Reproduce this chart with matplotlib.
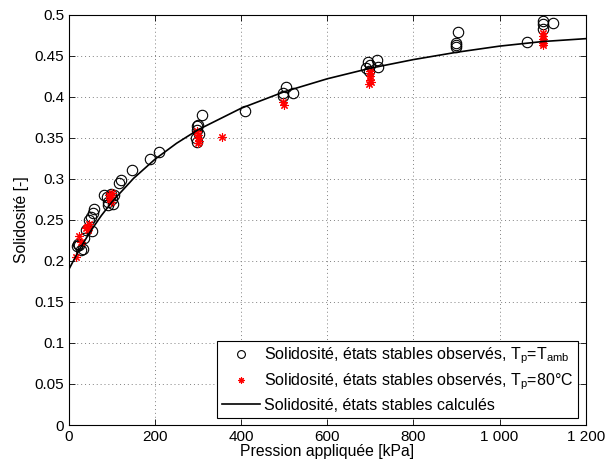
import numpy as np
import matplotlib
matplotlib.use("Agg")
from matplotlib import pyplot as plt

plt.rcParams['font.family'] = ['Liberation Sans', 'DejaVu Sans']
plt.rcParams['mathtext.fontset'] = 'custom'
plt.rcParams['mathtext.rm'] = 'Liberation Sans'
plt.rcParams['mathtext.it'] = 'Liberation Sans:italic'

# Observed stable states, T_p = T_amb (pressure kPa, solidity)
amb_pressure = [18, 22, 24, 28, 32, 36, 40, 53, 47, 51, 55, 59,
                82, 88, 90, 91, 97, 100, 105, 102, 117, 122, 146, 188, 210,
                297, 300, 298, 297, 295, 302, 310, 409,
                498, 497, 504, 521, 695, 700, 715, 718, 691, 698,
                898, 898, 899, 904, 1064, 1100, 1100, 1100, 1125]
amb_solidity = [0.218, 0.221, 0.2195, 0.2134, 0.214, 0.228, 0.238, 0.236, 0.25, 0.254, 0.258, 0.263,
                0.28, 0.278, 0.268, 0.272, 0.282, 0.276, 0.28, 0.27, 0.295, 0.299, 0.311, 0.324, 0.333,
                0.364, 0.366, 0.36, 0.3455, 0.35, 0.355, 0.378, 0.3833,
                0.4045, 0.401, 0.4126, 0.405, 0.443, 0.439, 0.445, 0.437, 0.435, 0.432,
                0.466, 0.463, 0.4606, 0.479, 0.467, 0.4927, 0.489, 0.4826, 0.4906]

# Observed stable states, T_p = 80 C
hot_pressure = [16, 24, 28, 40, 43, 46, 45, 94, 96, 98, 100, 95,
                298, 300, 300, 302, 299, 356, 498, 500,
                700, 700, 700, 702, 698, 700,
                1100, 1100, 1100, 1100, 1100, 1102]
hot_solidity = [0.205, 0.23, 0.2235, 0.24, 0.242, 0.245, 0.238, 0.28, 0.276, 0.272, 0.283, 0.278,
                0.358, 0.354, 0.35, 0.346, 0.344, 0.3516, 0.394, 0.39,
                0.429, 0.425, 0.421, 0.418, 0.416, 0.432,
                0.478, 0.474, 0.47, 0.466, 0.463, 0.468]

# Calculated stable states
calc_pressure = [0, 25, 50, 75, 100, 150, 200, 250, 300, 400, 500, 600, 700, 800, 900, 1000, 1100, 1200]
calc_solidity = [0.190, 0.2147, 0.2362, 0.2552, 0.2721, 0.3007, 0.3241, 0.3435, 0.360, 0.3862,
                 0.4063, 0.4221, 0.435, 0.4455, 0.4544, 0.4619, 0.4675, 0.471]

x_ticks = [0, 200, 400, 600, 800, 1000, 1200]
x_tick_labels = ['0', '200', '400', '600', '800', '1 000', '1 200']
y_ticks = [0, 0.05, 0.1, 0.15, 0.2, 0.25, 0.3, 0.35, 0.4, 0.45, 0.5]
y_tick_labels = ['0', '0.05', '0.1', '0.15', '0.2', '0.25', '0.3', '0.35', '0.4', '0.45', '0.5']

fig = plt.figure(figsize=(6.05, 4.65), dpi=100)
ax = fig.add_axes([0.114, 0.086, 0.854, 0.882])

ax.plot(amb_pressure, amb_solidity, linestyle='none', marker='o', markersize=7.5,
        markerfacecolor='none', markeredgecolor='black', markeredgewidth=0.8,
        label='Solidosité, états stables observés, T$_\\mathrm{p}$=T$_\\mathrm{amb}$')
ax.plot(hot_pressure, hot_solidity, linestyle='none', marker=(8, 2, 0), markersize=6,
        color='red', markeredgewidth=0.8,
        label='Solidosité, états stables observés, T$_\\mathrm{p}$=80°C')
ax.plot(calc_pressure, calc_solidity, color='black', linewidth=1.2,
        label='Solidosité, états stables calculés')

ax.set_xlim(0, 1200)
ax.set_ylim(0, 0.5)
ax.set_xticks(x_ticks)
ax.set_xticklabels(x_tick_labels)
ax.set_yticks(y_ticks)
ax.set_yticklabels(y_tick_labels)
ax.tick_params(direction='in', top=True, right=True, labelsize=11, length=4, width=0.6)
ax.grid(True, linestyle=(0, (1, 3)), color='gray', linewidth=0.7)
for s in ax.spines.values():
    s.set_linewidth(0.8)

ax.set_xlabel('Pression appliquée [kPa]', fontsize=11.3, labelpad=0)
ax.set_ylabel('Solidosité [-]', fontsize=11.3, labelpad=4)

leg = ax.legend(loc='lower right', fontsize=11.5, fancybox=False, framealpha=1,
                edgecolor='black', handlelength=2.4, borderpad=0.3, labelspacing=0.35,
                borderaxespad=0.45, handletextpad=0.25, markerscale=0.75)
leg.get_frame().set_linewidth(0.8)

fig.savefig('out.png', dpi=100)
